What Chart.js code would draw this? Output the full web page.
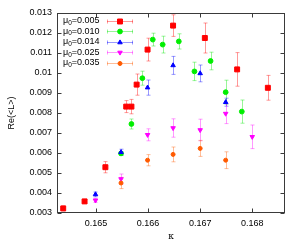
<!DOCTYPE html>
<html>
<head>
<meta charset="utf-8">
<script src="https://cdn.jsdelivr.net/npm/chart.js@4/dist/chart.umd.min.js"></script>
<style>
html, body { margin: 0; padding: 0; background: #fff; }
#wrap { width: 300px; height: 245px; }
</style>
</head>
<body>
<div id="wrap"><canvas id="chart" width="300" height="245"></canvas></div>
<script>
// values: kappa, Re(<L>), error
var kappa005 = [0.16437, 0.16478, 0.16518, 0.16558, 0.16568, 0.16578, 0.16599, 0.16648, 0.16709, 0.16771, 0.1683];
var re005    = [0.00323, 0.00358, 0.00529, 0.00832, 0.00832, 0.00942, 0.01117, 0.01237, 0.01175, 0.01018, 0.00926];
var err005   = [0.00012, 0.0001, 0.00028, 0.0003, 0.00036, 0.00053, 0.00057, 0.00054, 0.00075, 0.00084, 0.00062];

var kappa010 = [0.16548, 0.16568, 0.16589, 0.16609, 0.16628, 0.16659, 0.16689, 0.1672, 0.16749, 0.1678];
var re010    = [0.00598, 0.00745, 0.00974, 0.01167, 0.01142, 0.01158, 0.01008, 0.0106, 0.00904, 0.00807];
var err010   = [0.0001, 0.00025, 0.00035, 0.00032, 0.00042, 0.00038, 0.00046, 0.00044, 0.0006, 0.00058];

var kappa014 = [0.16499, 0.16548, 0.16599, 0.16648, 0.167, 0.16749];
var re014    = [0.00393, 0.00604, 0.00927, 0.01038, 0.00998, 0.00854];
var err014   = [0.00012, 0.00015, 0.00038, 0.00045, 0.00042, 0.0002];

var kappa025 = [0.16499, 0.16548, 0.16599, 0.16648, 0.167, 0.16749, 0.168];
var re025    = [0.00363, 0.0047, 0.00691, 0.00725, 0.00715, 0.00797, 0.00681];
var err025   = [0.0001, 0.00025, 0.0003, 0.00046, 0.00054, 0.0005, 0.00059];

var kappa035 = [0.16548, 0.16599, 0.16648, 0.167, 0.16749];
var re035    = [0.0045, 0.00564, 0.00593, 0.00623, 0.00564];
var err035   = [0.00028, 0.00028, 0.00037, 0.0004, 0.00042];

var mu0Labels = ['0.005', '0.010', '0.014', '0.025', '0.035'];
var xTicks = [0.165, 0.166, 0.167, 0.168];
var yTicks = [0.003, 0.004, 0.005, 0.006, 0.007, 0.008, 0.009, 0.01, 0.011, 0.012, 0.013];

var FONT = 'Liberation Sans, Arial, sans-serif';

function pts(xs, ys) {
    var out = [];
    for (var i = 0; i < xs.length; i++) out.push({x: xs[i], y: ys[i]});
    return out;
}

function series(i, xs, ys, errs, color, bar, style, radius, rot) {
    return {
        label: mu0Labels[i],
        data: pts(xs, ys),
        errors: errs,
        barColor: bar,
        backgroundColor: color,
        borderColor: color,
        borderWidth: 1,
        pointStyle: style,
        pointRadius: radius,
        pointRotation: rot || 0,
        showLine: false,
        order: 5 - i
    };
}

// vertical error bars, drawn under the markers
var errorBars = {
    id: 'errorBars',
    beforeDatasetsDraw: function(chart) {
        var ctx = chart.ctx, xs = chart.scales.x, ys = chart.scales.y;
        ctx.save();
        ctx.lineWidth = 1;
        chart.data.datasets.forEach(function(ds) {
            ctx.strokeStyle = ds.barColor;
            ds.data.forEach(function(p, i) {
                var px = Math.round(xs.getPixelForValue(p.x)) + 0.5;
                var lo = ys.getPixelForValue(p.y - ds.errors[i]);
                var hi = ys.getPixelForValue(p.y + ds.errors[i]);
                ctx.beginPath();
                ctx.moveTo(px, lo); ctx.lineTo(px, hi);
                ctx.moveTo(px - 2, lo); ctx.lineTo(px + 2, lo);
                ctx.moveTo(px - 2, hi); ctx.lineTo(px + 2, hi);
                ctx.stroke();
            });
        });
        ctx.restore();
    }
};

// gnuplot style frame with inward ticks, plus the key
var frame = {
    id: 'frame',
    afterDraw: function(chart) {
        var ctx = chart.ctx, a = chart.chartArea, xs = chart.scales.x, ys = chart.scales.y;
        var l = Math.round(a.left) - 0.5, r = Math.round(a.right) + 0.5;
        var t = Math.round(a.top) + 0.5, b = Math.round(a.bottom) - 0.5;
        ctx.save();
        ctx.strokeStyle = '#3a3a3a';
        ctx.lineWidth = 1;
        ctx.strokeRect(l, t, r - l, b - t);
        ctx.beginPath();
        xTicks.forEach(function(v) {
            var px = Math.round(xs.getPixelForValue(v)) + 0.5;
            ctx.moveTo(px, b); ctx.lineTo(px, b - 4);
            ctx.moveTo(px, t); ctx.lineTo(px, t + 4);
        });
        yTicks.forEach(function(v) {
            var py = Math.round(ys.getPixelForValue(v)) + 0.5;
            ctx.moveTo(l, py); ctx.lineTo(l + 4, py);
            ctx.moveTo(r, py); ctx.lineTo(r - 4, py);
        });
        ctx.stroke();

        // key
        chart.data.datasets.forEach(function(ds, i) {
            var y = 20.5 + i * 10.6;
            var x = 63;
            ctx.fillStyle = '#000';
            ctx.textBaseline = 'middle';
            ctx.textAlign = 'left';
            ctx.font = '9px ' + FONT;
            ctx.fillText('\u03bc', x, y);
            x += ctx.measureText('\u03bc').width;
            ctx.font = '6.5px ' + FONT;
            ctx.fillText('0', x, y + 2.5);
            x += ctx.measureText('0').width;
            ctx.font = '9px ' + FONT;
            ctx.fillText('=' + ds.label, x, y);

            var yy = Math.round(y) + 0.5;
            ctx.strokeStyle = ds.barColor;
            ctx.beginPath();
            ctx.moveTo(107, yy); ctx.lineTo(133, yy);
            ctx.moveTo(107.5, yy - 2); ctx.lineTo(107.5, yy + 2);
            ctx.moveTo(132.5, yy - 2); ctx.lineTo(132.5, yy + 2);
            ctx.stroke();
            ctx.fillStyle = ds.backgroundColor;
            ctx.strokeStyle = ds.borderColor;
            Chart.helpers.drawPoint(ctx, {
                pointStyle: ds.pointStyle,
                radius: ds.pointRadius,
                rotation: ds.pointRotation,
                borderWidth: 1
            }, 120, yy);
        });
        ctx.restore();
    }
};

var chart = new Chart(document.getElementById('chart'), {
    type: 'scatter',
    data: {
        datasets: [
            series(0, kappa005, re005, err005, '#ff0000', 'rgba(255,0,0,0.4)', 'rect', 3.5),
            series(1, kappa010, re010, err010, '#00ee00', 'rgba(0,230,0,0.4)', 'circle', 2.4),
            series(2, kappa014, re014, err014, '#0000ff', 'rgba(0,0,255,0.4)', 'triangle', 2.6),
            series(3, kappa025, re025, err025, '#ff00ff', 'rgba(255,0,255,0.4)', 'triangle', 2.6, 180),
            series(4, kappa035, re035, err035, '#ff5a00', 'rgba(255,90,0,0.4)', 'circle', 2)
        ]
    },
    options: {
        responsive: false,
        animation: false,
        devicePixelRatio: 1,
        layout: { padding: { left: 0, top: 13, right: 16, bottom: 0 } },
        plugins: {
            legend: { display: false },
            tooltip: { enabled: false }
        },
        scales: {
            x: {
                type: 'linear',
                min: 0.16427,
                max: 0.16861,
                grid: { display: false, drawTicks: false },
                border: { display: false },
                afterFit: function(scale) { scale.height = 32; },
                afterBuildTicks: function(scale) {
                    scale.ticks = xTicks.map(function(v) { return {value: v}; });
                },
                ticks: {
                    padding: 5,
                    color: '#000',
                    font: { family: FONT, size: 9 },
                    callback: function(v) { return String(+v.toFixed(3)); }
                },
                title: {
                    display: true,
                    text: '\u03ba',
                    color: '#000',
                    font: { family: 'DejaVu Serif, serif', size: 9 },
                    padding: { top: 0, bottom: 3 }
                }
            },
            y: {
                min: 0.003,
                max: 0.013,
                grid: { display: false, drawTicks: false },
                border: { display: false },
                afterFit: function(scale) { scale.width = 58; },
                afterBuildTicks: function(scale) {
                    scale.ticks = yTicks.map(function(v) { return {value: v}; });
                },
                ticks: {
                    padding: 6,
                    color: '#000',
                    font: { family: FONT, size: 9 },
                    callback: function(v) { return String(+v.toFixed(3)); }
                },
                title: {
                    display: true,
                    text: 'Re(<L>)',
                    color: '#000',
                    font: { family: FONT, size: 9 },
                    padding: { top: 6, bottom: 0 }
                }
            }
        }
    },
    plugins: [errorBars, frame]
});
</script>
</body>
</html>
